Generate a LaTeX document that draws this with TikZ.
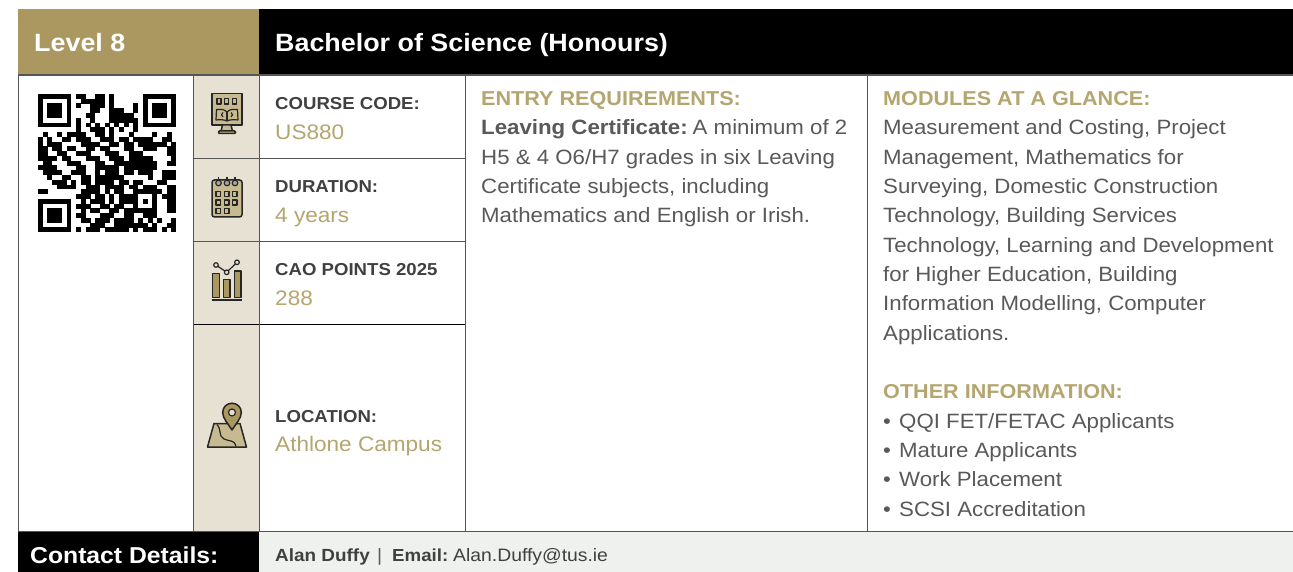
\documentclass[tikz,border=0pt]{standalone}
\usepackage{fontspec}
\setmainfont[FakeStretch=1.075]{Liberation Sans}
\definecolor{gold}{HTML}{AB9860}
\definecolor{goldtext}{HTML}{B5A56F}
\definecolor{beige}{HTML}{E6E1D2}
\definecolor{tan}{HTML}{C8BA90}
\definecolor{rule}{HTML}{555555}
\definecolor{body}{HTML}{58595B}
\definecolor{dark}{HTML}{404040}
\definecolor{pale}{HTML}{EFF1EF}
\newcount\qrx
\newcount\qry
\def\qrwalk#1{\ifx#1;\else\if#11\fill[black] ({38+4.77*\the\qrx-0.1},{94+4.77*\the\qry-0.1}) rectangle ({38+4.77*\the\qrx+4.87},{94+4.77*\the\qry+4.87});\fi\advance\qrx by 1 \expandafter\qrwalk\fi}
\def\qrrow#1{\qrx=0 \qrwalk#1;\advance\qry by 1 }
\tikzset{
 x=1pt,y=-1pt,
 hairline/.style={draw=rule,line width=1.1pt},
 head/.style={anchor=base west,inner sep=0pt,font=\fontsize{25}{25}\selectfont\bfseries,text=white},
 lab/.style={anchor=base west,inner sep=0pt,font=\fontsize{17.3}{17.3}\selectfont\bfseries,text=dark},
 val/.style={anchor=base west,inner sep=0pt,font=\fontsize{21}{21}\selectfont,text=goldtext},
 ttl/.style={anchor=base west,inner sep=0pt,font=\fontsize{20.1}{20.1}\selectfont\bfseries,text=goldtext},
 txt/.style={anchor=base west,inner sep=0pt,font=\fontsize{20.7}{20.7}\selectfont,text=body},
 small/.style={anchor=base west,inner sep=0pt,font=\fontsize{18}{18}\selectfont,text=dark},
 ico/.style={draw=black!85,line width=1.5pt,fill=tan,line join=round},
 icl/.style={draw=black!85,line width=1.2pt,line join=round},
}
\newcommand{\bul}{\makebox[16pt][l]{•}}
\begin{document}
\begin{tikzpicture}
\useasboundingbox (0,0) rectangle (1293,572);
\fill[white] (0,0) rectangle (1293,572);
% bands
\fill[gold] (18,9) rectangle (259,75);
\fill[black] (259,9) rectangle (1293,75);
\fill[beige] (193,75) rectangle (259,531);
\fill[black] (18,531) rectangle (259,572);
\fill[pale] (259,531) rectangle (1293,572);
% rules
\draw[hairline] (18,75) -- (1293,75);
\draw[hairline] (193,158.5) -- (465,158.5);
\draw[hairline] (193,241.5) -- (465,241.5);
\draw[hairline,draw=black] (193,324.5) -- (465,324.5);
\draw[hairline] (18,531.5) -- (1293,531.5);
\draw[hairline] (18.5,75) -- (18.5,531);
\draw[hairline] (193.5,75) -- (193.5,531);
\draw[hairline] (259.5,75) -- (259.5,531);
\draw[hairline] (465.5,75) -- (465.5,531);
\draw[hairline] (867.5,75) -- (867.5,531);
% header text
\node[head] (lvl) at (34,51.5) {Level 8};
\node[head] (deg) at (275,51.5) {Bachelor of Science (Honours)};
% QR
\qry=0
\qrrow{11111110110011010000001111111}
\qrrow{10000010011111010000001000001}
\qrrow{10111010100111010000101011101}
\qrrow{10111010000110011100101011101}
\qrrow{10111010001100011111001011101}
\qrrow{10000010100100011111101000001}
\qrrow{11111110101010101010101111111}
\qrrow{00000000100111010100100000000}
\qrrow{01001011110011010001000010010}
\qrrow{10100110111001110110111100110}
\qrrow{10111000011110011011011111101}
\qrrow{11011011001101100011001110011}
\qrrow{11001100111000111001110000011}
\qrrow{11110110001110011101111100001}
\qrrow{01100011100011001111111110011}
\qrrow{11110000110011111011111110000}
\qrrow{01111001110010111011011100111}
\qrrow{00100110011011111100000100111}
\qrrow{00011101011011110110110001100}
\qrrow{00001111001110111101101110011}
\qrrow{11000000011110101100111111011}
\qrrow{00000000111011010111100010111}
\qrrow{11111110010111010111101010011}
\qrrow{10000010111001101100100010011}
\qrrow{10111010010110011011111110011}
\qrrow{10111010110001110011001110000}
\qrrow{10111010011011101111010101001}
\qrrow{10000010000111001111111010011}
\qrrow{11111110101110111110101110101}
% icon monitor
\draw[ico] (212,93.5) rectangle (242,125);
\draw[ico] (222.5,125) -- (231,125) -- (232.5,131) -- (221,131) -- cycle;
\draw[ico,rounded corners=1pt] (218.5,131) rectangle (235.5,133.5);
\foreach \xa in {217,224.5,232.5}{\draw[icl,fill=none] (\xa,98.5) rectangle ++(4,5.5);}
\draw[icl,fill=tan] (227,112) .. controls (224,109) and (220,109) .. (216.5,109.5) -- (216,120) .. controls (220,119.5) and (224,119.5) .. (227,121) .. controls (230,119.5) and (234,119.5) .. (238,120) -- (237.5,109.5) .. controls (234,109) and (230,109) .. (227,112) -- cycle;
\draw[icl] (227,112) -- (227,121);
\draw[icl] (223,112.5) -- (221.5,114.8) -- (223,117);
\draw[icl] (231,112.5) -- (232.5,114.8) -- (231,117);
% icon calendar
\draw[ico,rounded corners=2.5pt] (212,180) rectangle (242,217);
\foreach \xa in {218.5,227,235}{\draw[icl] (\xa,177) -- (\xa,180); \draw[icl,fill=gray!70] (\xa,183) circle (2.8);}
\foreach \xa in {216,224.5,232.5}{\foreach \ya in {191.5,200}{\draw[icl,fill=none] (\xa,\ya) rectangle ++(4.5,5);}}
\foreach \xa in {216,224.5}{\draw[icl,fill=none] (\xa,208.5) rectangle ++(4.5,5);}
% icon chart
\draw[ico,fill=gold] (212.7,273.5) rectangle (219.3,297.3);
\draw[ico,fill=gold] (223.3,279.5) rectangle (229.8,297.3);
\draw[ico,fill=gold] (234.3,271) rectangle (240.8,297.3);
\draw[icl] (211.7,300) -- (241.7,300);
\draw[icl] (216,265) -- (226.7,272.3) -- (237,262.3);
\foreach \xa/\ya in {216/265,226.7/272.3,237/262.3}{\draw[icl,fill=beige] (\xa,\ya) circle (2.3);}
% icon map
\draw[ico] (214,423.5) -- (240,423.5) -- (246.5,447) -- (207.5,447) -- cycle;
\draw[icl] (217,424.5) .. controls (222,430) and (218,436) .. (224,439) .. controls (230,442) and (234,439) .. (236,446.5);
\draw[ico,fill=gold] (232,430) .. controls (228,423.5) and (222.7,418.5) .. (222.7,412.5) .. controls (222.7,407) and (227,403.2) .. (232,403.2) .. controls (237,403.2) and (241.3,407) .. (241.3,412.5) .. controls (241.3,418.5) and (236,423.5) .. (232,430) -- cycle;
\draw[icl,fill=beige] (232,412.5) circle (3.5);
% left column
\node[lab] (a1) at (275,110) {COURSE CODE:};
\node[val] (a2) at (275,139.5) {US880};
\node[lab] (b1) at (275,193) {DURATION:};
\node[val] (b2) at (275,222.5) {4 years};
\node[lab] (c1) at (275,276) {CAO POINTS 2025};
\node[val] (c2) at (275,305) {288};
\node[lab] (d1) at (275,422) {LOCATION:};
\node[val] (d2) at (275,451) {Athlone Campus};
% entry
\node[ttl] (e0) at (481,105.5) {ENTRY REQUIREMENTS:};
\node[txt] (e1) at (481,135) {\textbf{Leaving Certificate:}\hspace{5pt}A minimum of 2};
\node[txt] (e2) at (481,164.5) {H5 \& 4 O6/H7 grades in six Leaving};
\node[txt] (e3) at (481,193.5) {Certificate subjects, including};
\node[txt] (e4) at (481,222.5) {Mathematics and English or Irish.};
% modules
\node[ttl] (m0) at (883,105.5) {MODULES AT A GLANCE:};
\node[txt] (m1) at (883,135) {Measurement and Costing, Project};
\node[txt] (m2) at (883,164.5) {Management, Mathematics for};
\node[txt] (m3) at (883,193.5) {Surveying, Domestic Construction};
\node[txt] (m4) at (883,222.5) {Technology, Building Services};
\node[txt] (m5) at (883,252) {Technology, Learning and Development};
\node[txt] (m6) at (883,281.5) {for Higher Education, Building};
\node[txt] (m7) at (883,310.5) {Information Modelling, Computer};
\node[txt] (m8) at (883,340) {Applications.};
\node[ttl] (o0) at (883,398.5) {OTHER INFORMATION:};
\node[txt] (o1) at (883,428) {\bul QQI FET/FETAC Applicants};
\node[txt] (o2) at (883,457.5) {\bul Mature Applicants};
\node[txt] (o3) at (883,486.5) {\bul Work Placement};
\node[txt] (o4) at (883,516) {\bul SCSI Accreditation};
% footer
\node[head,font=\fontsize{23}{23}\selectfont\bfseries] (cd) at (30,563) {Contact Details:};
\node[small,font=\fontsize{17.6}{17.6}\selectfont] (ct1) at (275,561) {\textbf{Alan Duffy}};
\node[small,text=body] (ct2) at (377,561) {|};
\node[small,font=\fontsize{17.4}{17.4}\selectfont] (ct3) at (392,561) {\textbf{Email:}};
\node[small] (ct4) at (453,561) {Alan.Duffy@tus.ie};
\end{tikzpicture}
\end{document}
